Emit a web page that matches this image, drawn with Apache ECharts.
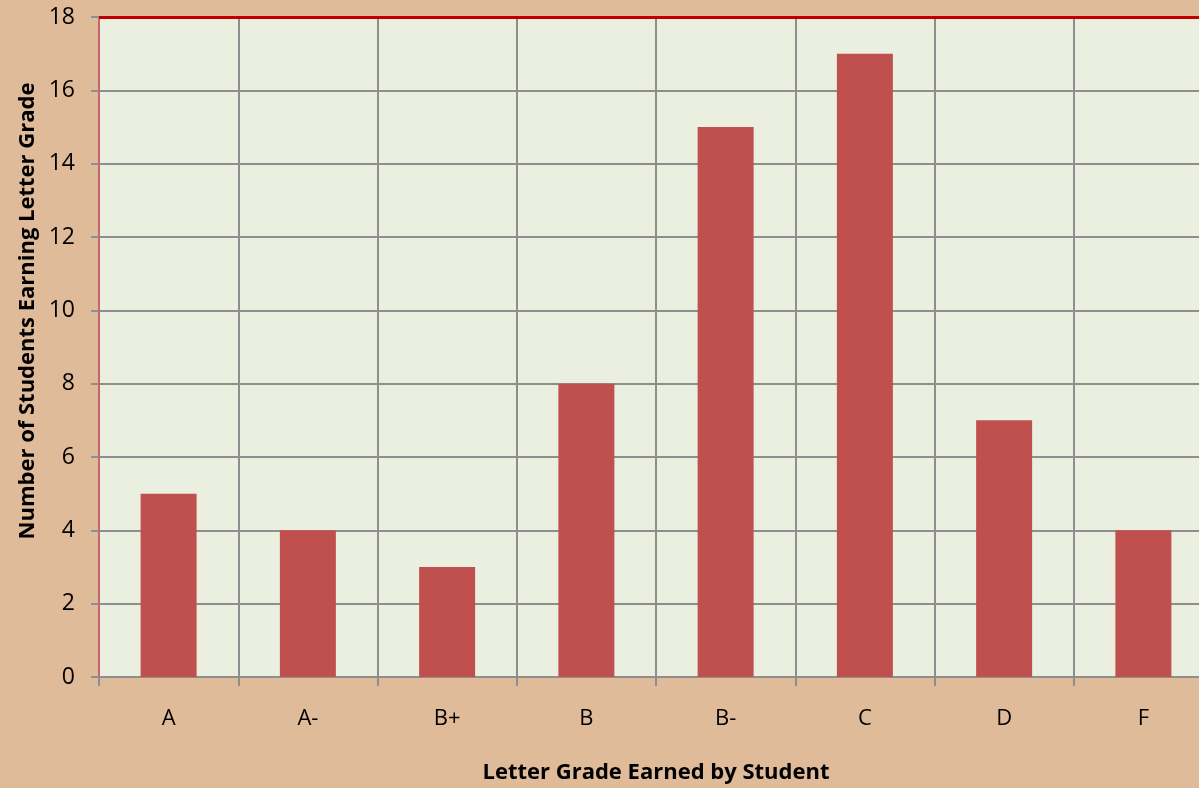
<!DOCTYPE html>
<html>
<head>
<meta charset="utf-8">
<title>Letter Grade Distribution</title>
<script src="https://cdn.jsdelivr.net/npm/echarts@6/dist/echarts.min.js"></script>
<style>
  html, body { margin: 0; padding: 0; background: #DFBB9A; }
  #chart { width: 1199px; height: 788px; }
</style>
</head>
<body>
<div id="chart"></div>
<script>
// Grade categories and student counts
const grades = ['A', 'A-', 'B+', 'B', 'B-', 'C', 'D', 'F'];
const studentCounts = [5, 4, 3, 8, 15, 17, 7, 4];

// Value axis range
const yMin = 0;
const yMax = 18;
const yStep = 2;

const FONT = '"Open Sans", "Liberation Sans", sans-serif';
const GRID_GRAY = '#8E8E8E';

// one colour per split line (0..18); the top edge is drawn red
const splitColors = [];
for (let v = yMin; v <= yMax; v += yStep) {
  splitColors.push(v === yMax ? '#C00000' : GRID_GRAY);
}

const chart = echarts.init(document.getElementById('chart'), null, { renderer: 'canvas' });

chart.setOption({
  backgroundColor: '#DFBB9A',
  animation: false,
  grid: {
    left: 99,
    top: 17,
    width: 1114,
    bottom: 111,
    outerBoundsMode: 'none',
    containLabel: false,
    show: true,
    backgroundColor: '#EBEFDF',
    borderColor: '#C8606A',
    borderWidth: 1
  },
  xAxis: {
    type: 'category',
    data: grades,
    boundaryGap: true,
    axisLine: { show: true, lineStyle: { color: GRID_GRAY, width: 2 } },
    axisTick: { show: true, length: 9, lineStyle: { color: GRID_GRAY, width: 2 } },
    axisLabel: { color: '#000', fontFamily: FONT, fontSize: 22, margin: 31 },
    splitLine: { show: true, lineStyle: { color: GRID_GRAY, width: 2 } },
    name: 'Letter Grade Earned by Student',
    nameLocation: 'middle',
    nameGap: 85,
    nameTextStyle: { color: '#000', fontFamily: FONT, fontSize: 22, fontWeight: 'bold' }
  },
  yAxis: {
    type: 'value',
    min: yMin,
    max: yMax,
    interval: yStep,
    axisLine: { show: true, lineStyle: { color: '#C4646C', width: 2 } },
    axisTick: { show: true, length: 8, lineStyle: { color: GRID_GRAY, width: 2 } },
    axisLabel: { color: '#000', fontFamily: FONT, fontSize: 23, margin: 24 },
    splitLine: { show: true, lineStyle: { color: splitColors, width: 2 } }
  },
  graphic: [{
    type: 'text',
    x: 28,
    y: 311,
    rotation: Math.PI / 2,
    style: {
      text: 'Number of Students Earning Letter Grade',
      fill: '#000',
      font: 'bold 22px ' + FONT,
      align: 'center',
      verticalAlign: 'middle'
    }
  }],
  series: [{
    type: 'bar',
    data: studentCounts,
    barWidth: 56,
    itemStyle: { color: '#C0504D' },
    z: 3,
    // heavier red edge along the top of the plot area
    markLine: {
      silent: true,
      symbol: 'none',
      label: { show: false },
      lineStyle: { color: '#C00000', width: 3, type: 'solid' },
      data: [{ yAxis: yMax }]
    }
  }]
});
</script>
</body>
</html>
